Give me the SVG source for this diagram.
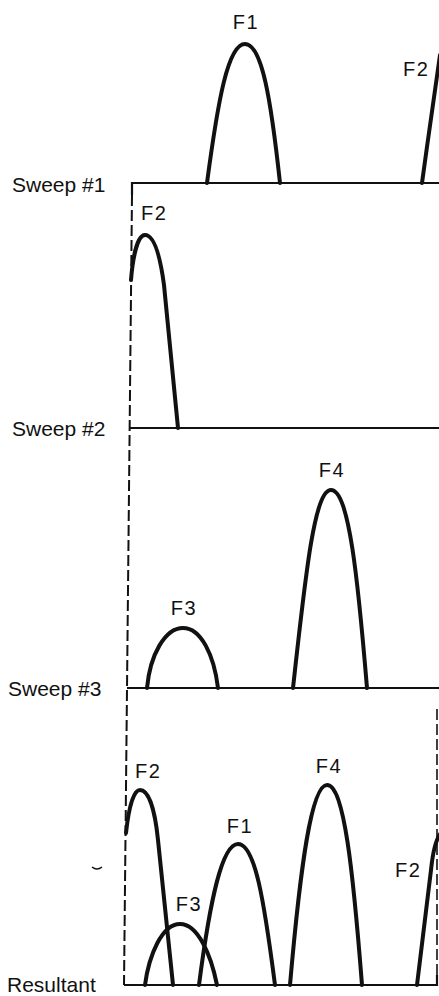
<svg xmlns="http://www.w3.org/2000/svg" width="439" height="996" viewBox="0 0 439 996">
<style>
text{font-family:"Liberation Sans",Arial,sans-serif;fill:#111;}
.lab{font-size:21px;}
.pk{font-size:20px;letter-spacing:1.5px;text-anchor:middle;}
.pkl{font-size:20px;letter-spacing:1.5px;}
.base{stroke:#111;stroke-width:2.2;fill:none;}
.dash{stroke:#111;stroke-width:2;fill:none;stroke-dasharray:11 4;}
.curve{stroke:#111;stroke-width:4;fill:none;stroke-linecap:round;stroke-linejoin:round;}
</style>
<rect width="439" height="996" fill="#fff"/>
<g id="connectors">
<path class="base" d="M132,195 L132,183 L439,183"/>
<path class="dash" d="M132,195 L124,985"/>
<path class="base" d="M129,428 L439,428"/>
<path class="base" d="M127,688 L439,688"/>
<path class="base" d="M124,985 L437,985 L437,975"/>
<path class="dash" d="M437,975 L437,705" style="stroke-width:1.6"/>
</g>
<g id="sweep1">
<text class="lab" x="12" y="192">Sweep #1</text>
<path class="curve" d="M207,183 C218,100 228,44 245,44 C262,44 271,100 280,183"/>
<text class="pk" x="246" y="29">F1</text>
<path class="curve" d="M422,183 C428,140 434,95 440,55"/>
<text class="pkl" x="403" y="76">F2</text>
</g>
<g id="sweep2">
<text class="lab" x="12" y="436">Sweep #2</text>
<path class="curve" d="M131,280 C133,255 138,235 145,235 C154,235 160,255 164,285 L178,428"/>
<text class="pkl" x="141" y="220">F2</text>
</g>
<g id="sweep3">
<text class="lab" x="8" y="696">Sweep #3</text>
<path class="curve" d="M147,688 C150,655 165,628 183,628 C201,628 214,655 218,688"/>
<text class="pk" x="184" y="615">F3</text>
<path class="curve" d="M293,688 C305,580 314,490 331,490 C349,490 358,580 367,688"/>
<text class="pk" x="332" y="477">F4</text>
</g>
<g id="resultant">
<text class="lab" x="7" y="992">Resultant</text>
<path class="curve" d="M126,833 C129,805 134,790 140,790 C149,790 155,810 158,840 L173,985"/>
<text class="pkl" x="135" y="778">F2</text>
<path class="curve" d="M145,985 C149,955 162,924 180,924 C198,924 211,955 217,985"/>
<text class="pk" x="189" y="911">F3</text>
<path class="curve" d="M199,985 C210,900 222,844 238,844 C255,844 264,900 275,985"/>
<text class="pk" x="240" y="833">F1</text>
<path class="curve" d="M290,985 C300,870 311,785 327,785 C344,785 353,870 362,985"/>
<text class="pk" x="329" y="773">F4</text>
<path class="curve" d="M417,985 L431,870 C433,850 436,840 440,834"/>
<text class="pkl" x="395" y="877">F2</text>
<path d="M92,867 Q97,871 102,867" stroke="#111" stroke-width="1.5" fill="none"/>
</g>
</svg>
